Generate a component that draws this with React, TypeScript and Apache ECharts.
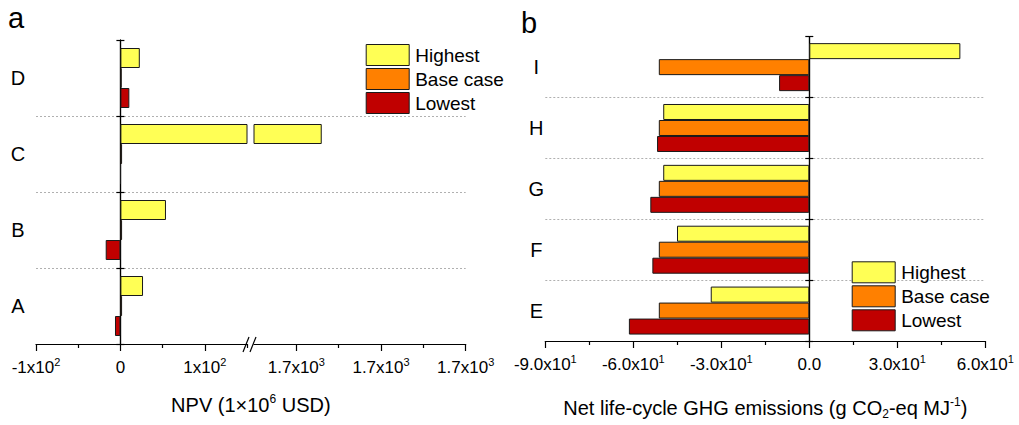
import React, { useEffect, useRef } from 'react';
import * as echarts from 'echarts';

// Scenario names and fills
const scenarios = ['Highest', 'Base case', 'Lowest'];
const scenarioColors = ['#FFFF55', '#FF8000', '#C00000'];

// Panel a: NPV (1x10^6 USD)
const npvCategories = ['A', 'B', 'C', 'D'];
const npvHighest = [26.8, 54, 1666, 23];
const npvBase = [2, 2, 2, 1.5];
const npvLowest = [-6.4, -17.4, 0.3, 10.6];

// Panel b: net life-cycle GHG emissions (g CO2-eq MJ-1)
const ghgCategories = ['E', 'F', 'G', 'H', 'I'];
const ghgHighest = [-33.6, -45.1, -49.8, -49.8, 51.5];
const ghgBase = [-51.3, -51.3, -51.3, -51.3, -51.3];
const ghgLowest = [-61.5, -53.5, -54.2, -51.9, -10.3];

// Broken NPV axis: lower and upper segments
const npvLowRange = [-100, 150];
const npvLowTicks = [-100, 0, 100];
const npvLowTickLabels = ['-1x10{sup|2}', '0', '1x10{sup|2}'];
const npvLowMinorTicks = [-50, 50, 150];
const npvHighRange = [1650, 1700];
const npvHighTicks = [1660, 1680, 1700];
const npvHighTickLabels = ['1.7x10{sup|3}', '1.7x10{sup|3}', '1.7x10{sup|3}'];
const npvHighMinorTicks = [1670, 1690];

const ghgRange = [-90, 60];
const ghgTicks = [-90, -60, -30, 0, 30, 60];
const ghgTickLabels = ['-9.0x10{sup|1}', '-6.0x10{sup|1}', '-3.0x10{sup|1}', '0.0', '3.0x10{sup|1}', '6.0x10{sup|1}'];

const FONT = 'Liberation Sans, Arial, sans-serif';

const supStyle = { fontSize: 11, lineHeight: 11, verticalAlign: 'top', fontFamily: FONT, color: '#000' };
const subStyle = { fontSize: 12, lineHeight: 12, verticalAlign: 'bottom', fontFamily: FONT, color: '#000' };

function lookup(ticks: number[], labels: string[]) {
  return (v: number) => {
    const i = ticks.findIndex((t) => Math.abs(t - v) < 1e-6);
    return i >= 0 ? labels[i] : '';
  };
}

function majorAxis(grid: number, range: number[], ticks: number[], labels: string[]) {
  return {
    type: 'value',
    gridIndex: grid,
    position: 'bottom',
    min: range[0],
    max: range[1],
    axisLine: { show: true, onZero: false, lineStyle: { color: '#000', width: 1.2 } },
    axisTick: { show: true, customValues: ticks, length: 7, lineStyle: { color: '#000', width: 1.2 } },
    axisLabel: {
      show: true,
      customValues: ticks,
      formatter: lookup(ticks, labels),
      fontSize: 17,
      lineHeight: 23,
      margin: 12,
      color: '#000',
      fontFamily: FONT,
      rich: { sup: supStyle },
    },
    splitLine: { show: false },
  };
}

function minorAxis(grid: number, range: number[], ticks: number[]) {
  return {
    type: 'value',
    gridIndex: grid,
    position: 'bottom',
    min: range[0],
    max: range[1],
    axisLine: { show: false, onZero: false },
    axisTick: { show: true, customValues: ticks, length: 4, lineStyle: { color: '#000', width: 1.2 } },
    axisLabel: { show: false },
    splitLine: { show: false },
  };
}

const dotted = { show: true, lineStyle: { color: '#b0b0b0', type: [2, 2], width: 1 }, showMinLine: false, showMaxLine: false };

function zeroLineAxis(grid: number, cats: string[], inside: boolean, xIndex: number, split: boolean) {
  return {
    type: 'category',
    gridIndex: grid,
    position: 'left',
    data: cats,
    axisLine: { show: true, onZero: true, onZeroAxisIndex: xIndex, lineStyle: { color: '#000', width: 1.2 } },
    axisTick: { show: true, inside, length: 4, lineStyle: { color: '#000', width: 1.2 } },
    axisLabel: { show: false },
    splitLine: split ? dotted : { show: false },
  };
}

function labelAxis(grid: number, cats: string[], margin: number, split: boolean) {
  return {
    type: 'category',
    gridIndex: grid,
    position: 'left',
    data: cats,
    axisLine: { show: false, onZero: false },
    axisTick: { show: false },
    axisLabel: { show: true, fontSize: 20, color: '#000', fontFamily: FONT, align: 'center', margin },
    splitLine: split ? dotted : { show: false },
  };
}

function barSeries(name: string, color: string, data: number[], xIndex: number, yIndex: number, width: number) {
  return {
    type: 'bar',
    name,
    data,
    xAxisIndex: xIndex,
    yAxisIndex: yIndex,
    barWidth: width,
    barGap: '0%',
    clip: true,
    itemStyle: { color, borderColor: '#1a1a1a', borderWidth: 1 },
    emphasis: { disabled: true },
  };
}

function legend(left: number, top: number) {
  return {
    orient: 'vertical',
    left,
    top,
    padding: 0,
    data: scenarios,
    icon: 'rect',
    itemWidth: 43,
    itemHeight: 21,
    itemGap: 2,
    selectedMode: false,
    itemStyle: { borderColor: '#1a1a1a', borderWidth: 1 },
    textStyle: { fontSize: 19, color: '#000', fontFamily: FONT, padding: [0, 0, 0, 1] },
  };
}

export default function App() {
  const ref = useRef<HTMLDivElement>(null);

  useEffect(() => {
    if (!ref.current) return;
    const chart = echarts.init(ref.current, undefined, { renderer: 'svg' });
    const npvSets = [npvHighest, npvBase, npvLowest];
    const ghgSets = [ghgHighest, ghgBase, ghgLowest];

    const series: any[] = [];
    scenarios.forEach((s, i) => series.push(barSeries(s, scenarioColors[i], npvSets[i], 0, 0, 20)));
    scenarios.forEach((s, i) => series.push(barSeries(s, scenarioColors[i], npvSets[i], 2, 2, 20)));
    scenarios.forEach((s, i) => series.push(barSeries(s, scenarioColors[i], ghgSets[i], 5, 4, 16)));

    chart.setOption({
      animation: false,
      textStyle: { fontFamily: FONT, color: '#000' },
      grid: [
        { left: 36, top: 40, width: 211, height: 304 },
        { left: 254, top: 40, width: 211.7, height: 304 },
        { left: 36, top: 40, width: 429.7, height: 304 },
        { left: 545.3, top: 36.7, width: 440, height: 305 },
      ],
      xAxis: [
        majorAxis(0, npvLowRange, npvLowTicks, npvLowTickLabels),
        minorAxis(0, npvLowRange, npvLowMinorTicks),
        majorAxis(1, npvHighRange, npvHighTicks, npvHighTickLabels),
        minorAxis(1, npvHighRange, npvHighMinorTicks),
        {
          type: 'value',
          gridIndex: 2,
          position: 'bottom',
          min: 0,
          max: 1,
          axisLine: { show: false, onZero: false },
          axisTick: { show: false },
          axisLabel: { show: false },
          splitLine: { show: false },
          name: 'NPV (1×10{sup|6} USD)',
          nameLocation: 'middle',
          nameGap: 49,
          nameTextStyle: { fontSize: 20, lineHeight: 24, color: '#000', fontFamily: FONT, rich: { sup: { ...supStyle, fontSize: 12 } } },
        },
        {
          type: 'value',
          gridIndex: 3,
          position: 'bottom',
          min: ghgRange[0],
          max: ghgRange[1],
          interval: 30,
          axisLine: { show: true, onZero: false, lineStyle: { color: '#000', width: 1.2 } },
          axisTick: { show: true, length: 7, lineStyle: { color: '#000', width: 1.2 } },
          minorTick: { show: true, splitNumber: 2, length: 4, lineStyle: { color: '#000', width: 1.2 } },
          axisLabel: {
            formatter: lookup(ghgTicks, ghgTickLabels),
            fontSize: 17,
            lineHeight: 23,
            margin: 12,
            color: '#000',
            fontFamily: FONT,
            rich: { sup: supStyle },
          },
          splitLine: { show: false },
          name: 'Net life-cycle GHG emissions (g CO{sub|2}-eq MJ{sup|-1})',
          nameLocation: 'middle',
          nameGap: 55,
          nameTextStyle: {
            fontSize: 20,
            lineHeight: 24,
            color: '#000',
            fontFamily: FONT,
            rich: { sup: { ...supStyle, fontSize: 12 }, sub: subStyle },
          },
        },
      ],
      yAxis: [
        zeroLineAxis(0, npvCategories, false, 0, false),
        zeroLineAxis(0, npvCategories, true, 0, false),
        { type: 'category', gridIndex: 1, data: npvCategories, show: false },
        labelAxis(2, npvCategories, 18, true),
        zeroLineAxis(3, ghgCategories, false, 5, true),
        zeroLineAxis(3, ghgCategories, true, 5, false),
        labelAxis(3, ghgCategories, 9, false),
      ],
      legend: [legend(365.7, 44), legend(851.7, 261.3)],
      title: [
        { text: 'a', left: 8, top: 3, padding: 0, textStyle: { fontSize: 29, fontWeight: 'normal', color: '#000', fontFamily: FONT } },
        { text: 'b', left: 521, top: 8, padding: 0, textStyle: { fontSize: 29, fontWeight: 'normal', color: '#000', fontFamily: FONT } },
      ],
      graphic: [
        { type: 'line', shape: { x1: 243, y1: 352, x2: 249, y2: 337 }, style: { stroke: '#000', lineWidth: 1.2 } },
        { type: 'line', shape: { x1: 250, y1: 352, x2: 256, y2: 337 }, style: { stroke: '#000', lineWidth: 1.2 } },
      ],
      series,
    });

    return () => chart.dispose();
  }, []);

  return <div ref={ref} style={{ position: 'fixed', left: 0, top: 0, width: 1019, height: 425, background: '#fff' }} />;
}
